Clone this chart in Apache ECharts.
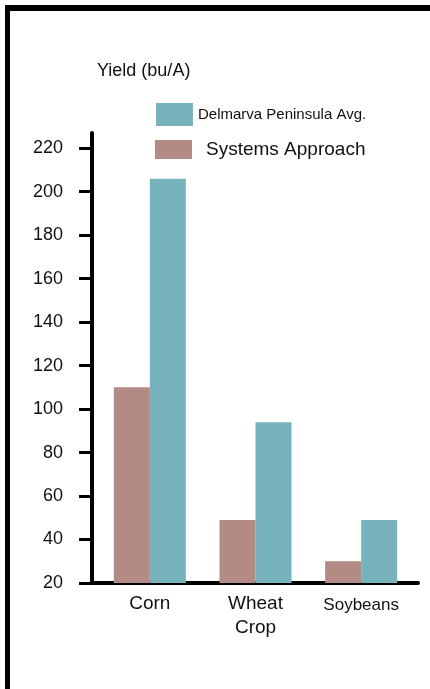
<!DOCTYPE html>
<html>
<head>
<meta charset="utf-8">
<script src="https://cdn.jsdelivr.net/npm/echarts@6/dist/echarts.min.js"></script>
<style>
  html, body { margin: 0; padding: 0; background: #fff; overflow: hidden; }
  .frame { position: absolute; left: 5px; top: 5px; width: 440px; height: 680px; border-left: 5px solid #000; border-top: 6px solid #000; border-bottom: 5px solid #000; }
  #chart { position: absolute; left: 0; top: 0; width: 430px; height: 689px; }
</style>
</head>
<body>
<div class="frame"></div>
<div id="chart"></div>
<script>
const crops = ['Corn', 'Wheat\nCrop', 'Soybeans']
const systemsApproach = [110, 49, 30]
const delmarvaAvg = [206, 94, 49]
const yTicks = [20, 40, 60, 80, 100, 120, 140, 160, 180, 200, 220]
const yMin = 20
const yMax = 227

const font = 'Liberation Sans'
const chart = echarts.init(document.getElementById('chart'))
chart.setOption({
  animation: false,
  backgroundColor: 'transparent',
  // grid 0 carries the axis lines, grid 1 the bars (slightly inset like the original)
  grid: [
    { left: 92, right: 12, top: 133, bottom: 106 },
    { left: 97, right: 16, top: 133, bottom: 106 },
  ],
  title: { text: 'Yield (bu/A)', left: 92, top: 57, textStyle: { fontFamily: font, fontSize: 18, fontWeight: 'normal', color: '#111' } },
  legend: [
    { data: ['Delmarva Peninsula Avg.'], left: 151, top: 98, itemWidth: 37, itemHeight: 23, icon: 'rect',
      textStyle: { fontFamily: font, fontSize: 15, color: '#111' } },
    { data: ['Systems Approach'], left: 150, top: 135, itemWidth: 37, itemHeight: 19, icon: 'rect',
      textStyle: { fontFamily: font, fontSize: 19, color: '#111', padding: [0, 0, 0, 9] } },
  ],
  xAxis: [
    { type: 'value', gridIndex: 0, min: 0, max: 1, axisLine: { show: true, lineStyle: { color: '#000', width: 4 } },
      axisTick: { show: false }, axisLabel: { show: false }, splitLine: { show: false } },
    { type: 'category', gridIndex: 1, data: crops,
      axisLine: { show: false }, axisTick: { show: false },
      axisLabel: {
        interval: 0, hideOverlap: false,
        fontFamily: font, fontSize: 19, color: '#111', margin: 9, lineHeight: 24,
        formatter: (v) => v === 'Soybeans' ? '{s|' + v + '}' : v,
        rich: { s: { fontFamily: font, fontSize: 17, color: '#111', padding: [3, 0, 0, 0] } },
      } },
  ],
  yAxis: [
    { type: 'value', gridIndex: 0, min: yMin, max: yMax,
      axisLine: { show: true, lineStyle: { color: '#000', width: 4 } },
      splitLine: { show: false },
      axisTick: { show: true, length: 13, customValues: yTicks, lineStyle: { color: '#000', width: 3 } },
      axisLabel: { customValues: yTicks, fontFamily: font, fontSize: 18, color: '#111', margin: 29 } },
    { type: 'value', gridIndex: 1, min: yMin, max: yMax, show: false },
  ],
  series: [
    { name: 'Systems Approach', type: 'bar', xAxisIndex: 1, yAxisIndex: 1, data: systemsApproach, barWidth: 36, barGap: '0%', itemStyle: { color: '#b38a84' } },
    { name: 'Delmarva Peninsula Avg.', type: 'bar', xAxisIndex: 1, yAxisIndex: 1, data: delmarvaAvg, barWidth: 36, barGap: '0%', itemStyle: { color: '#76b3bd' } },
  ],
})
</script>
</body>
</html>
